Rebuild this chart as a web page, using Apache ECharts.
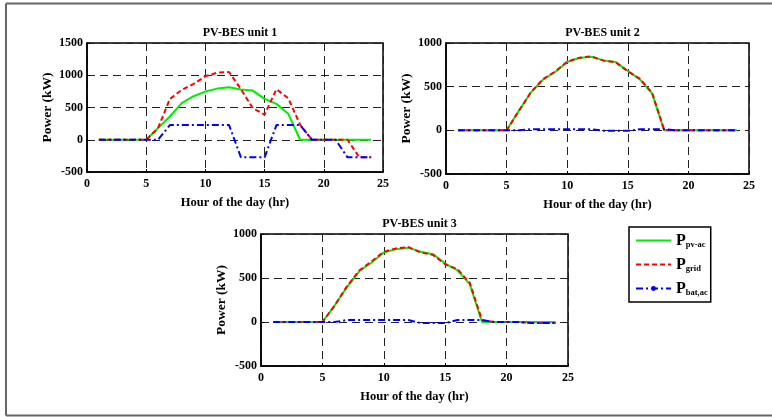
<!DOCTYPE html>
<html>
<head>
<meta charset="utf-8">
<script src="https://cdn.jsdelivr.net/npm/echarts@6/dist/echarts.min.js"></script>
<style>
html,body{margin:0;padding:0;background:#fff;overflow:hidden;}
#chart{width:772px;height:417px;}
</style>
</head>
<body>
<div id="chart"></div>
<script>
var hours = [1,2,3,4,5,6,7,8,9,10,11,12,13,14,15,16,17,18,19,20,21,22,23,24];

var u1Pv   = [0,0,0,0,0,180,360,567,675,747,793,814,780,762,633,556,402,0,0,0,0,0,0,0];
var u1Grid = [0,0,0,0,0,180,633,772,865,984,1040,1050,785,489,391,783,644,232,0,0,0,0,-273,-273];
var u1Bat  = [0,0,0,0,0,0,227,227,227,227,227,227,-273,-273,-273,227,227,227,0,0,0,-273,-273,-273];

var u2Pv   = [0,0,0,0,0,221,431,580,668,782,828,843,801,782,679,584,424,0,0,0,0,0,0,0];
var u2Grid = [0,0,0,0,0,221,436,585,672,786,832,846,798,779,676,590,430,5,0,0,0,0,0,0];
var u2Bat  = [0,0,0,0,0,0,12,12,12,12,12,12,-5,-5,-5,12,12,12,0,0,0,0,0,0];

var u3Pv   = [0,0,0,0,0,187,397,576,676,790,828,845,798,771,664,588,431,0,0,0,0,0,0,0];
var u3Grid = [0,0,0,0,0,187,405,585,688,798,836,851,790,763,656,600,445,20,0,0,0,-12,-12,-12];
var u3Bat  = [0,0,0,0,0,0,22,22,22,22,22,22,-12,-12,-12,22,22,22,0,0,0,-12,-12,-12];

var titles = ['PV-BES unit 1','PV-BES unit 2','PV-BES unit 3'];
var subs = {pv:'pv-ac', grid:'grid', bat:'bat,ac'};

var FONT = '"Liberation Serif","Times New Roman",serif';

var grids = [
  {left:87, top:43, width:296, height:129},
  {left:446, top:43, width:303, height:131},
  {left:261, top:234, width:307, height:132}
];
var yRanges = [[-500,1500],[-500,1000],[-500,1000]];
var unitData = [[u1Pv,u1Grid,u1Bat],[u2Pv,u2Grid,u2Bat],[u3Pv,u3Grid,u3Bat]];

function pairs(arr){ return hours.map(function(h,i){ return [h, arr[i]]; }); }

var gridLine = {show:true, lineStyle:{color:'#222', width:1, type:[8,5]}};
var labelStyle = {color:'#000', fontFamily:FONT, fontWeight:'bold', fontSize:12,
  formatter:function(v){ return String(v); }};

var option = {
  animation:false,
  backgroundColor:'#fff',
  title: grids.map(function(g,i){
    return {text:titles[i], left:g.left+g.width/2, top:g.top-21, textAlign:'center',
      textStyle:{fontFamily:FONT, fontWeight:'bold', fontSize:12, color:'#000'}};
  }),
  grid: grids.map(function(g){
    return {left:g.left, top:g.top, width:g.width, height:g.height, show:true,
      borderColor:'#000', borderWidth:1.5, backgroundColor:'transparent'};
  }),
  xAxis: grids.map(function(g,i){
    return {type:'value', gridIndex:i, min:0, max:25, interval:5,
      name:'Hour of the day (hr)', nameLocation:'middle', nameGap:24,
      nameTextStyle:{color:'#000', fontFamily:FONT, fontWeight:'bold', fontSize:12.5},
      axisLine:{show:true, onZero:false, lineStyle:{color:'#000', width:1.5}},
      axisTick:{show:true, inside:true, length:3, lineStyle:{color:'#000'}},
      axisLabel:Object.assign({margin:6}, labelStyle),
      splitLine:gridLine};
  }),
  yAxis: grids.map(function(g,i){
    return {type:'value', gridIndex:i, min:yRanges[i][0], max:yRanges[i][1], interval:500,
      name:'Power (kW)', nameLocation:'middle', nameGap:32,
      nameTextStyle:{color:'#000', fontFamily:FONT, fontWeight:'bold', fontSize:13.5},
      axisLine:{show:true, onZero:false, lineStyle:{color:'#000', width:1.5}},
      axisTick:{show:true, inside:true, length:3, lineStyle:{color:'#000'}},
      axisLabel:Object.assign({margin:4}, labelStyle),
      splitLine:gridLine};
  }),
  legend: {
    data:[
      {name:'pv', itemStyle:{opacity:0}},
      {name:'grid', itemStyle:{opacity:0}},
      {name:'bat'}
    ],
    orient:'vertical', left:629, top:227,
    padding:[5,3,5,6], itemGap:7, itemWidth:35, itemHeight:6,
    borderColor:'#000', borderWidth:1.5, backgroundColor:'#fff',
    formatter:function(n){ return '{p|P}{s|' + subs[n] + '}'; },
    textStyle:{
      rich:{
        p:{fontFamily:FONT, fontWeight:'bold', fontSize:16, color:'#000', lineHeight:16},
        s:{fontFamily:FONT, fontWeight:'bold', fontSize:8.5, color:'#000', padding:[8,0,0,0], lineHeight:12}
      }
    }
  },
  graphic:[
    {type:'line', z:-10, silent:true, shape:{x1:6, y1:3.5, x2:772, y2:3.5}, style:{stroke:'#666', lineWidth:2}},
    {type:'line', z:-10, silent:true, shape:{x1:6, y1:3.5, x2:6, y2:415.5}, style:{stroke:'#666', lineWidth:2}},
    {type:'line', z:-10, silent:true, shape:{x1:6, y1:415.5, x2:772, y2:415.5}, style:{stroke:'#666', lineWidth:2}}
  ],
  series:[]
};

unitData.forEach(function(d,i){
  option.series.push({name:'pv', type:'line', xAxisIndex:i, yAxisIndex:i, data:pairs(d[0]),
    symbol:'none', color:'#00ee00', lineStyle:{color:'#00ee00', width:2, type:'solid'}, z:2});
  option.series.push({name:'grid', type:'line', xAxisIndex:i, yAxisIndex:i, data:pairs(d[1]),
    symbol:'none', color:'#ff0000', lineStyle:{color:'#ff0000', width:2, type:[5,3]}, z:3});
  option.series.push({name:'bat', type:'line', xAxisIndex:i, yAxisIndex:i, data:pairs(d[2]),
    symbol:'circle', symbolSize:4, showSymbol:false, color:'#0000ff',
    lineStyle:{color:'#0000ff', width:2, type:[7,3,2,3]}, z:4});
});

var chart = echarts.init(document.getElementById('chart'), null, {renderer:'canvas'});
chart.setOption(option);
</script>
</body>
</html>
